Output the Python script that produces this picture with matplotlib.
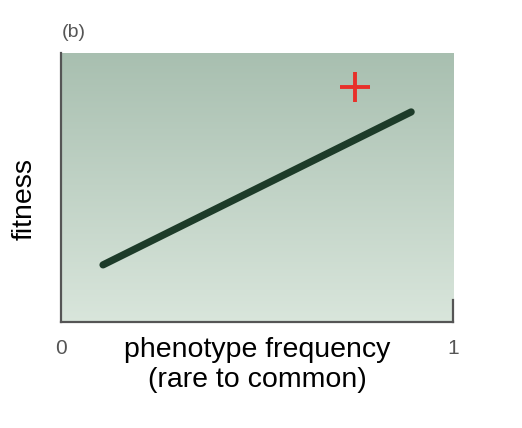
import numpy as np
import matplotlib.pyplot as plt

plt.rcParams['font.family'] = ['Liberation Sans', 'DejaVu Sans']

# fitness line end points (x = phenotype frequency, y = fitness)
freq = [0.107, 0.893]
fitness = [0.212, 0.781]

# the "+" sign
plus_x = [0.75]
plus_y = [0.874]

x_ticks = [0, 1]
x_tick_labels = ['0', '1']

fig = plt.figure(figsize=(5.22, 4.28), dpi=100)
ax = fig.add_axes([0.117, 0.248, 0.751, 0.628])

# green gradient background, darker at the top
grad = np.linspace(0, 1, 256).reshape(-1, 1)
top = np.array([0.66, 0.75, 0.69])
bottom = np.array([0.85, 0.90, 0.86])
img = top + (bottom - top) * grad[:, :, None]
ax.imshow(img, extent=[0, 1, 0, 1], aspect='auto', zorder=0, origin='upper')

ax.plot(freq, fitness, color='#1d3b29', lw=5.2, solid_capstyle='round', zorder=2)
ax.plot(plus_x, plus_y, marker='+', markersize=22, markeredgewidth=2.8,
        color='#e8302a', linestyle='none', zorder=3)

ax.set_xlim(0, 1)
ax.set_ylim(0, 1)

for side in ['top', 'right']:
    ax.spines[side].set_visible(False)
for side in ['left', 'bottom']:
    ax.spines[side].set_color('#555555')
    ax.spines[side].set_linewidth(1.6)
# short stub on the right side at the bottom
ax.plot([1, 1], [0, 0.08], color='#555555', lw=1.6, clip_on=False, zorder=4)

ax.set_yticks([])
ax.set_xticks(x_ticks)
ax.set_xticklabels(x_tick_labels, fontsize=15, color='#555555')
ax.tick_params(axis='x', length=0, pad=12)

ax.set_xlabel('phenotype frequency\n(rare to common)', fontsize=20.5,
              linespacing=1.2)
ax.xaxis.set_label_coords(0.5, -0.055, transform=ax.transAxes)
ax.xaxis.label.set_va('top')
ax.set_ylabel('fitness', fontsize=20.5)
ax.yaxis.set_label_coords(-0.092, 0.457)
ax.yaxis.label.set_va('center')

fig.text(0.119, 0.914, '(b)', fontsize=14, color='#555555')

fig.savefig('out.png', dpi=100)
